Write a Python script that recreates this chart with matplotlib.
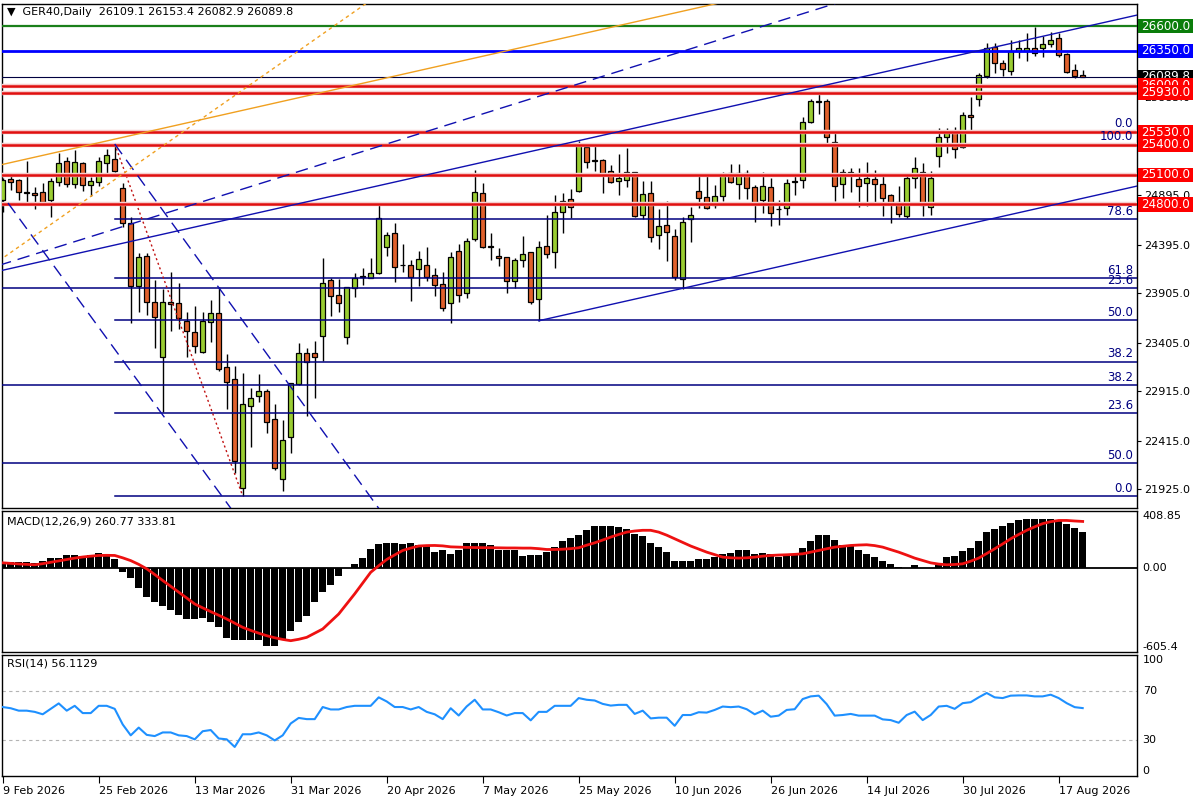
import numpy as np
import matplotlib.pyplot as plt
from matplotlib.patches import Rectangle
from matplotlib.transforms import blended_transform_factory

plt.rcParams['font.family'] = 'DejaVu Sans'
plt.rcParams['font.size'] = 8

# ---- data (GER40 daily, bar index 0 = 9 Feb 2026) ----
DATE_LABELS = ['9 Feb 2026', '25 Feb 2026', '13 Mar 2026', '31 Mar 2026', '20 Apr 2026',
               '7 May 2026', '25 May 2026', '10 Jun 2026', '26 Jun 2026', '14 Jul 2026',
               '30 Jul 2026', '17 Aug 2026']

OPEN = [24845, 25057, 25047, 24925, 24915, 24925, 24845, 25029, 25241, 25006,
        25218, 24996, 25029, 25221, 25259, 24966, 24612, 23979, 24282, 23814,
        23259, 23814, 23804, 23622, 23511, 23312, 23612, 23703, 23161, 23037,
        21936, 22767, 22868, 22915, 22633, 22027, 22451, 22986, 23299, 23299,
        23474, 24036, 23885, 23464, 23956, 24067, 24060, 24107, 24373, 24511,
        24188, 24188, 24148, 24188, 24087, 23996, 23804, 24329, 23905, 24451,
        24915, 24373, 24279, 24269, 24026, 24238, 24319, 23845, 24380, 24319,
        24726, 24855, 24938, 25383, 25248, 25248, 25137, 25036, 25047, 25124,
        24693, 24912, 24491, 24592, 24481, 24047, 24653, 24935, 24872, 24794,
        24885, 25114, 25006, 25120, 24973, 24845, 24973, 24754, 24761, 25029,
        25047, 25635, 25837, 25847, 25433, 25003, 25124, 25054, 25019, 25054,
        25003, 24895, 24827, 24686, 25064, 25130, 24771, 25289, 25484, 25534,
        25383, 25703, 25862, 26097, 26387, 26231, 26150, 26352, 26352, 26383,
        26377, 26417, 26478, 26319, 26157, 26109.1]
HIGH = [25067, 25097, 25052, 25241, 24976, 25016, 25070, 25319, 25279, 25350,
        25231, 25080, 25279, 25360, 25410, 25019, 24673, 24309, 24309, 24036,
        23946, 24117, 24006, 23713, 23777, 23713, 23835, 23969, 23289, 23171,
        23097, 22946, 23087, 22936, 22784, 22623, 22999, 23400, 23350, 23420,
        24262, 24057, 24047, 23969, 24107, 24161, 24262, 24794, 24524, 24612,
        24400, 24238, 24329, 24370, 24158, 24117, 24322, 24400, 24464, 25148,
        25019, 24514, 24360, 24272, 24259, 24481, 24322, 24430, 24693, 24895,
        24915, 24956, 25440, 25400, 25393, 25259, 25198, 25309, 25367, 25130,
        25036, 25036, 24754, 24834, 24552, 24670, 24771, 25097, 25120, 24996,
        25130, 25208, 25208, 25148, 24996, 25130, 25064, 24845, 25054, 25097,
        25680, 25865, 25928, 25865, 25552, 25158, 25165, 25171, 25225, 25148,
        25097, 24905, 24986, 25090, 25282, 25215, 25137, 25569, 25575, 25585,
        25736, 25888, 26124, 26433, 26433, 26259, 26461, 26461, 26528, 26595,
        26504, 26544, 26528, 26326, 26215, 26153.4]
LOW = [24723, 24945, 24845, 24827, 24754, 24794, 24676, 24986, 24976, 24966,
       24938, 24885, 24986, 25097, 25130, 24572, 23602, 23716, 23683, 23350,
       22706, 23524, 23542, 23259, 23299, 23299, 23413, 23120, 22734, 22087,
       21855, 22350, 22807, 22494, 22118, 21908, 22292, 22976, 22663, 22845,
       23218, 23676, 23716, 23390, 23868, 23986, 24057, 24100, 24279, 24019,
       24117, 23827, 23979, 24029, 23878, 23726, 23602, 23814, 23858, 24430,
       24360, 24238, 24181, 23908, 23959, 24171, 23794, 23625, 24259, 24158,
       24514, 24663, 24928, 25165, 25140, 24912, 25013, 24895, 24979, 24676,
       24650, 24423, 24347, 24231, 24036, 23946, 24423, 24761, 24751, 24761,
       24837, 25013, 24852, 24852, 24619, 24710, 24582, 24592, 24693, 24895,
       24969, 25619, 25713, 25423, 24837, 24862, 24928, 24777, 24787, 24827,
       24683, 24609, 24676, 24666, 24963, 24686, 24693, 25181, 25316, 25266,
       25367, 25534, 25794, 26074, 26130, 26097, 26107, 26276, 26251, 26299,
       26292, 26393, 26292, 26130, 26074, 26082.9]
CLOSE = [25047, 25026, 24925, 24920, 24895, 24824, 25039, 25221, 25006, 25231,
         24996, 25036, 25241, 25299, 25140, 24612, 23979, 24272, 23814, 23663,
         23814, 23794, 23653, 23524, 23373, 23622, 23703, 23138, 23006, 22211,
         22784, 22845, 22915, 22605, 22138, 22421, 22996, 23299, 23208, 23259,
         24006, 23878, 23807, 23966, 24057, 24072, 24107, 24663, 24491, 24171,
         24183, 24070, 24249, 24070, 23986, 23754, 24272, 23885, 24430, 24925,
         24373, 24378, 24259, 24026, 24238, 24299, 23817, 24370, 24299, 24726,
         24834, 24771, 25400, 25225, 25243, 25114, 25029, 25064, 25124, 24686,
         24902, 24468, 24582, 24518, 24064, 24619, 24693, 24862, 24761, 24885,
         25097, 25029, 25120, 24963, 24811, 24989, 24710, 24750, 25013, 25034,
         25629, 25847, 25842, 25478, 24989, 25124, 25120, 24989, 25064, 25003,
         24862, 24827, 24700, 25064, 25165, 24794, 25064, 25478, 25518, 25357,
         25703, 25680, 26107, 26377, 26231, 26165, 26352, 26377, 26383, 26326,
         26417, 26461, 26309, 26140, 26097, 26089.8]

MACD_HIST = [29, 41, 41, 41, 36, 52, 72, 72, 94, 89,
             84, 94, 108, 101, 65, -32, -74, -147, -212, -248,
             -277, -303, -337, -368, -368, -361, -392, -428, -508, -520,
             -520, -520, -520, -560, -560, -512, -452, -392, -348, -243,
             -171, -120, -62, -4, 29, 70, 137, 173, 180, 180,
             173, 180, 166, 157, 113, 125, 101, 125, 180, 180,
             180, 166, 125, 125, 125, 84, 89, 89, 113, 149,
             190, 215, 238, 270, 298, 298, 298, 291, 282, 245,
             226, 178, 147, 113, 52, 46, 46, 60, 60, 77,
             96, 108, 125, 125, 101, 108, 101, 77, 84, 94,
             142, 190, 234, 234, 197, 166, 166, 125, 101, 81,
             52, 29, 3, -2, 17, -3, -2, 22, 77, 84,
             118, 142, 192, 257, 282, 298, 325, 341, 348, 354,
             354, 354, 341, 318, 286, 260.77]
MACD_SIGNAL = [36, 32, 28, 25, 22, 30, 40, 50, 60, 70,
               78, 84, 89, 90, 89, 72, 52, 25, -7, -48,
               -91, -133, -175, -217, -260, -288, -315, -341, -368, -398,
               -428, -450, -470, -488, -503, -515, -524, -514, -500, -470,
               -440, -386, -332, -260, -187, -110, -32, 15, 60, 93,
               125, 142, 157, 160, 161, 158, 151, 149, 147, 146,
               145, 145, 144, 143, 143, 142, 142, 138, 132, 132,
               134, 138, 144, 163, 180, 200, 221, 240, 257, 265,
               270, 270, 257, 235, 209, 183, 157, 135, 113, 95,
               77, 72, 70, 72, 77, 84, 89, 92, 94, 97,
               101, 113, 125, 137, 149, 155, 161, 164, 166, 160,
               149, 131, 113, 92, 70, 53, 36, 27, 22, 24,
               29, 48, 70, 103, 137, 172, 209, 240, 270, 295,
               318, 332, 341, 341, 337, 333.81]
RSI = [57, 56, 54, 54, 53, 51, 55.5, 60, 54, 58,
       52, 52, 58, 58, 55.5, 42.6, 33.6, 40, 34, 33,
       36, 36, 33.6, 33, 30.3, 37, 38, 31, 30.3, 24,
       34.5, 34.5, 36, 33.6, 29.4, 33.6, 43.4, 48, 47, 47,
       57, 55, 55, 57, 58, 58, 58, 65, 61.6, 57,
       57, 55, 57, 53, 51, 47, 56, 50, 57.5, 63,
       55, 55, 52.7, 50, 52, 52, 46, 53, 53, 58,
       58, 58, 64.4, 63, 62.4, 59.6, 58.2, 58.8, 58.8, 51.3,
       54, 47.6, 48.2, 48.2, 41.5, 50.4, 50.4, 52.7, 52.4, 54.6,
       57.4, 56.9, 57.4, 55.2, 51, 54, 49, 49.9, 54.6, 55.2,
       63.6, 65.8, 66.4, 59.4, 49.9, 50.4, 51.3, 49.9, 49.9, 49.9,
       46.8, 46.2, 44, 50.4, 53.2, 46.2, 50.4, 57.4, 58, 55.5,
       60.2, 61, 65, 68.6, 65, 64.4, 66.4, 66.6, 66.6, 65.8,
       65.8, 67.2, 64.4, 60.2, 56.9, 56.1129]

# horizontal levels drawn on the chart
RED_LEVELS = [26000.0, 25930.0, 25530.0, 25400.0, 25100.0, 24800.0]
GREEN_LEVEL = 26600.0
BLUE_LEVEL = 26350.0
LAST_PRICE = 26089.8
PRICE_TICKS = [21925, 22415, 22915, 23405, 23905, 24395, 24895, 25885, 26375]

# fibonacci retracements: (start bar, price at 100, price at 0)
FIB_A = (14, 25410.0, 21855.0)
FIB_B = (-1, 18840.0, 25535.0)
FIB_LEVELS = [0.0, 23.6, 38.2, 50.0, 61.8, 78.6, 100.0]

# trend lines as (bar, price) anchor pairs
CHANNEL_UPPER = [(-1, 24117), (142, 26716)]
CHANNEL_LOWER = [(67, 23625), (142, 24989)]
DASHED_RISE = [(-1, 24171), (110, 26979)]
ORANGE_STEEP = [(-1, 24201), (48, 26975)]
ORANGE_FLAT = [(-1, 25186), (92, 26879)]
FORK_1 = [(14, 25410), (47.5, 21675)]
FORK_2 = [(0.66, 24814), (28.8, 21699)]
FIB_DIAG = [(14, 25410), (30, 21855)]

TITLE = '\u25bc  GER40,Daily  26109.1 26153.4 26082.9 26089.8'

W, H = 1200, 800
BULL = '#9acd32'
BEAR = '#e0612c'
NAVY = '#000080'
RED = '#e01010'


def px(x, y):
    return x / W, 1 - y / H


def draw_line(ax, pts, **kw):
    xs, ys = zip(*pts)
    ax.plot(xs, ys, **kw)


def style_axes(ax):
    for s in ax.spines.values():
        s.set_color('black')
        s.set_linewidth(1)
    ax.set_xlim(-0.04, 141.79)
    ax.set_xticks([])


def price_box(ax, price, text, color, z):
    """MT4-style label box to the right of the price axis."""
    tr = blended_transform_factory(ax.transAxes, ax.transData)
    hh = 7.2 * 10.1  # half of ~14 px in price units
    ax.add_patch(Rectangle((1.0012, price - hh), 0.0485, 2 * hh, transform=tr,
                           fc=color, ec='none', clip_on=False, zorder=z))
    ax.text(1.0032, price, text, transform=tr, ha='left', va='center', color='white',
            fontsize=8.6, clip_on=False, zorder=z + 0.5)


def main():
    fig = plt.figure(figsize=(12, 8), dpi=100)
    ax = fig.add_axes([0.002, 0.365, 0.9455, 0.63])
    axm = fig.add_axes([0.002, 0.185, 0.9455, 0.17625])
    axr = fig.add_axes([0.002, 0.03, 0.9455, 0.15125])
    for a in (ax, axm, axr):
        style_axes(a)

    x = np.arange(len(OPEN))
    o, h, l, c = (np.array(v, dtype=float) for v in (OPEN, HIGH, LOW, CLOSE))

    # ---- price panel ----
    ax.set_ylim(21733.7, 26824.1)
    ax.vlines(x, l, h, color='black', lw=1, zorder=4)
    up = c >= o
    ax.bar(x, np.abs(c - o), bottom=np.minimum(o, c), width=0.62,
           color=np.where(up, BULL, BEAR), edgecolor='black', linewidth=0.9, zorder=5)

    xr = 141.79
    for start, p100, p0 in (FIB_A, FIB_B):
        for lv in FIB_LEVELS:
            p = p0 + (p100 - p0) * lv / 100
            if 21734 < p < 26824:
                ax.plot([start, xr], [p, p], color=NAVY, lw=1.1, zorder=6)
                ax.text(xr - 0.5, p + 12, f'{lv:.1f}', color=NAVY, ha='right',
                        va='bottom', fontsize=8.5, zorder=7)
    draw_line(ax, FIB_DIAG, color='#c01010', lw=1, ls=(0, (1.5, 2)), zorder=6)

    for lv in RED_LEVELS:
        ax.axhline(lv, color='#f6cccc', lw=3.2, zorder=6)
        ax.axhline(lv, color=RED, lw=1.8, zorder=6)
    ax.axhline(GREEN_LEVEL, color='#1a7f1a', lw=1.6, zorder=6)
    ax.axhline(BLUE_LEVEL, color='#0000ff', lw=2, zorder=6)
    ax.axhline(LAST_PRICE, color='#000040', lw=0.8, zorder=6)

    draw_line(ax, CHANNEL_UPPER, color='#1010b0', lw=1, zorder=6)
    draw_line(ax, CHANNEL_LOWER, color='#1010b0', lw=1, zorder=6)
    draw_line(ax, DASHED_RISE, color='#1010b0', lw=1, ls=(0, (9, 5)), zorder=6)
    draw_line(ax, FORK_1, color='#1010b0', lw=1, ls=(0, (9, 5)), zorder=6)
    draw_line(ax, FORK_2, color='#1010b0', lw=1, ls=(0, (9, 5)), zorder=6)
    draw_line(ax, ORANGE_STEEP, color='#f0a020', lw=1, ls=(0, (2.5, 2.5)), zorder=6)
    draw_line(ax, ORANGE_FLAT, color='#f0a020', lw=1, zorder=6)

    ax.yaxis.tick_right()
    ax.set_yticks(PRICE_TICKS)
    ax.set_yticklabels([f'{v:.1f}' for v in PRICE_TICKS])
    ax.tick_params(axis='y', length=3, width=0.8, pad=2, labelsize=8)

    # price boxes on the right, stacked like the terminal draws them
    boxes = [(GREEN_LEVEL, '#0a7d0a'), (BLUE_LEVEL, '#0000ff'), (LAST_PRICE, 'black'),
             (26000.0, '#ff0000'), (25930.0, '#ff0000'), (25530.0, '#ff0000'),
             (25400.0, '#ff0000'), (25100.0, '#ff0000'), (24800.0, '#ff0000')]
    for i, (p, col) in enumerate(boxes):
        price_box(ax, p, f'{p:.1f}', col, 20 + i)

    fig.text(*px(7, 12), TITLE, fontsize=8, va='center', ha='left')

    # ---- MACD panel ----
    axm.set_ylim(-605.4, 408.85)
    axm.bar(x, MACD_HIST, width=0.82, color='black', zorder=2)
    axm.axhline(0, color='black', lw=1.3, zorder=2)
    axm.plot(x, MACD_SIGNAL, color='#ee1111', lw=2, zorder=3)
    axm.set_yticks([])
    trm = blended_transform_factory(axm.transAxes, axm.transData)
    axm.text(1.005, 408.85, '408.85', transform=trm, va='top', ha='left', fontsize=8, clip_on=False)
    axm.text(1.005, 0, '0.00', transform=trm, va='center', ha='left', fontsize=8, clip_on=False)
    axm.text(1.005, -605.4, '-605.4', transform=trm, va='bottom', ha='left', fontsize=8, clip_on=False)
    fig.text(*px(7, 521), 'MACD(12,26,9) 260.77 333.81', fontsize=8, va='center')

    # ---- RSI panel ----
    axr.set_ylim(0, 100)
    for lv in (70, 30):
        axr.axhline(lv, color='#b4b4b4', lw=0.8, ls=(0, (3, 3)), zorder=1)
    axr.plot(x, RSI, color='#1e90ff', lw=1.5, zorder=3)
    axr.set_yticks([])
    trr = blended_transform_factory(axr.transAxes, axr.transData)
    axr.text(1.005, 100, '100', transform=trr, va='top', ha='left', fontsize=8, clip_on=False)
    axr.text(1.005, 70, '70', transform=trr, va='center', ha='left', fontsize=8, clip_on=False)
    axr.text(1.005, 30, '30', transform=trr, va='center', ha='left', fontsize=8, clip_on=False)
    axr.text(1.005, 0, '0', transform=trr, va='bottom', ha='left', fontsize=8, clip_on=False)
    fig.text(*px(7, 664), 'RSI(14) 56.1129', fontsize=8, va='center')

    axr.set_xticks(range(0, 12 * len(DATE_LABELS), 12))
    axr.set_xticklabels(DATE_LABELS, ha='left', fontsize=8)
    axr.tick_params(axis='x', length=5, width=0.8, pad=2)

    fig.savefig('out.png', dpi=100, facecolor='white')


if __name__ == '__main__':
    main()
